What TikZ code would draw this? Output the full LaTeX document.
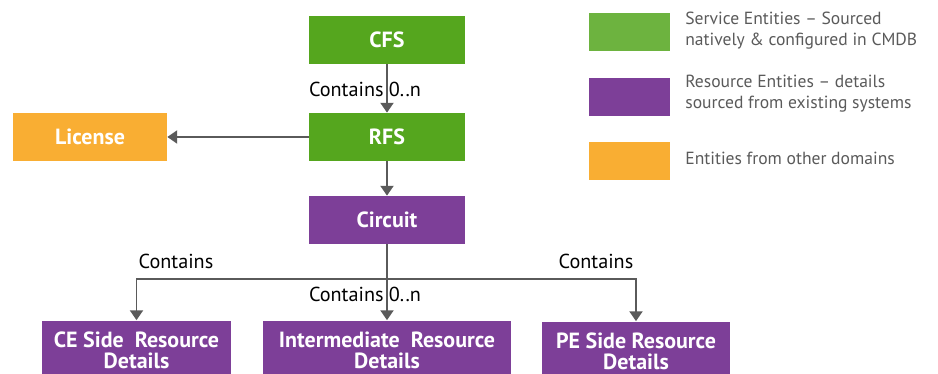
\documentclass[tikz,border=0pt]{standalone}
\usepackage{fontspec}
\setmainfont{PT Sans}
\usepackage{tikz}
\usetikzlibrary{arrows.meta}

\definecolor{svcgreen}{HTML}{55A61E}
\definecolor{keygreen}{HTML}{6DB33F}
\definecolor{respurple}{HTML}{7D3F98}
\definecolor{extorange}{HTML}{F9AE33}
\definecolor{wiregray}{HTML}{5A5A5A}

\tikzset{
    entity/.style={rectangle,inner sep=0pt,text=white,align=center,
                   font=\bfseries\fontsize{12.5}{12}\selectfont},
    topbox/.style={entity,minimum width=3.12cm,minimum height=0.96cm},
    leafbox/.style={entity,minimum height=1.18cm},
    keybox/.style={rectangle,minimum width=1.62cm,minimum height=0.76cm},
    keytext/.style={anchor=west,align=left,text=wiregray,inner sep=0pt,
                    font=\fontsize{10}{11.9}\selectfont},
    relation/.style={font=\fontsize{11.5}{12}\selectfont,inner sep=0pt}
}

\begin{document}
\begin{tikzpicture}[x=0.02cm,y=-0.02cm]
\useasboundingbox (0,0) rectangle (938,374);
\clip (0,0) rectangle (938,374);

\begin{scope}
    \node[topbox,fill=svcgreen] (CFS) at (387,40) {CFS};
    \node[topbox,fill=svcgreen] (RFS) at (387,137) {RFS};
    \node[topbox,fill=extorange,minimum width=3.08cm] (License) at (90,137) {License};
    \node[topbox,fill=respurple] (Circuit) at (387,220) {Circuit};

    \node[leafbox,fill=respurple,minimum width=3.78cm] (CE) at (136.5,350) {CE Side~~Resource\\Details};
    \node[leafbox,fill=respurple,minimum width=4.96cm] (Mid) at (387,350) {Intermediate~~Resource\\Details};
    \node[leafbox,fill=respurple,minimum width=3.78cm] (PE) at (636,351) {PE Side Resource\\Details};
\end{scope}

\coordinate (split) at (387,279);

\begin{scope}[>={Triangle[length=5.6pt,width=7.4pt]},
              every edge/.style={draw=wiregray,line width=1.1pt}]
    \path [->] (CFS) edge (RFS);
    \path [->] (RFS) edge (License);
    \path [->] (RFS) edge (Circuit);
    \path [->] (Circuit) edge (Mid);
    \draw [->,wiregray,line width=1.1pt] (split) -| (CE);
    \draw [->,wiregray,line width=1.1pt] (split) -| (PE);
\end{scope}

% relation labels
\node[relation] (lblTop) at (365,89) {Contains 0..n};
\node[relation] (lblMid) at (365,294) {Contains 0..n};
\node[relation] (lblCE) at (176,261) {Contains};
\node[relation] (lblPE) at (596,261) {Contains};

% legend
\node[keybox,fill=keygreen] (keySvc) at (629.5,32) {};
\node[keybox,fill=respurple] (keyRes) at (629.5,97) {};
\node[keybox,fill=extorange] (keyExt) at (629.5,161) {};
\node[keytext] (txtSvc) at (685,31) {Service Entities -- Sourced\\natively \& configured in CMDB};
\node[keytext] (txtRes) at (685,94) {Resource Entities -- details\\sourced from existing systems};
\node[keytext] (txtExt) at (685,158) {Entities from other domains};
\end{tikzpicture}
\end{document}
